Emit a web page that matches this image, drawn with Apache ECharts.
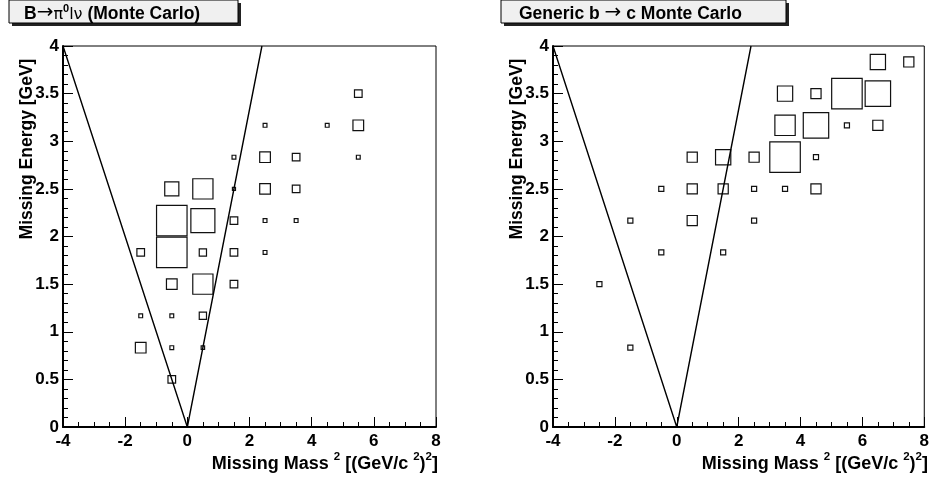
<!DOCTYPE html>
<html>
<head>
<meta charset="utf-8">
<script src="https://cdn.jsdelivr.net/npm/echarts@6/dist/echarts.min.js"></script>
<style>
  html, body { margin: 0; padding: 0; background: #fff; }
  #chart { width: 932px; height: 479px; }
</style>
</head>
<body>
<div id="chart"></div>
<script>
// axis ranges
const xRange = [-4, 8];
const yRange = [0, 4];

// [missing mass^2 bin centre, missing energy bin centre, content]
const signalBoxes = [
  [5.5, 3.5, 2],
  [2.5, 3.167, 1], [4.5, 3.167, 1], [5.5, 3.167, 2.8],
  [1.5, 2.833, 1], [2.5, 2.833, 2.8], [3.5, 2.833, 2], [5.5, 2.833, 1],
  [-0.5, 2.5, 3.7], [0.5, 2.5, 5.3], [1.5, 2.5, 0.8], [2.5, 2.5, 2.8], [3.5, 2.5, 2],
  [-0.5, 2.167, 8], [0.5, 2.167, 6.3], [1.5, 2.167, 2], [2.5, 2.167, 1], [3.5, 2.167, 1],
  [-1.5, 1.833, 2], [-0.5, 1.833, 8], [0.5, 1.833, 1.9], [1.5, 1.833, 2], [2.5, 1.833, 1],
  [-0.5, 1.5, 2.8], [0.5, 1.5, 5.3], [1.5, 1.5, 2],
  [-1.5, 1.167, 1], [-0.5, 1.167, 1], [0.5, 1.167, 1.9],
  [-1.5, 0.833, 2.8], [-0.5, 0.833, 1], [0.5, 0.833, 0.9],
  [-0.5, 0.5, 2]
];

const genericBoxes = [
  [6.5, 3.833, 3], [7.5, 3.833, 2],
  [3.5, 3.5, 3], [4.5, 3.5, 2], [5.5, 3.5, 6], [6.5, 3.5, 5],
  [3.5, 3.167, 4], [4.5, 3.167, 5], [5.5, 3.167, 1], [6.5, 3.167, 2],
  [0.5, 2.833, 2], [1.5, 2.833, 3], [2.5, 2.833, 2], [3.5, 2.833, 6], [4.5, 2.833, 1],
  [-0.5, 2.5, 1], [0.5, 2.5, 2], [1.5, 2.5, 2], [2.5, 2.5, 1], [3.5, 2.5, 1], [4.5, 2.5, 2],
  [-1.5, 2.167, 1], [0.5, 2.167, 2], [2.5, 2.167, 1],
  [-0.5, 1.833, 1], [1.5, 1.833, 1],
  [-2.5, 1.5, 1],
  [-1.5, 0.833, 1]
];

// signal region cut: E_miss vs M_miss^2
const cutLine = [[-4, 4], [0, 0], [2.4, 4]];

const FONT = '"Liberation Sans", Arial, Helvetica, sans-serif';
const SYM = '"DejaVu Sans", sans-serif';
const MAX_BOX = 30.5;

const grids = [
  { left: 63, top: 46, width: 373, height: 381 },
  { left: 553, top: 46, width: 373, height: 381 }
];

function xAxisFor(i) {
  return {
    type: 'value', gridIndex: i, min: xRange[0], max: xRange[1], interval: 2,
    axisLine: { onZero: false, lineStyle: { color: '#000', width: 2 } },
    axisTick: { inside: true, length: 10, lineStyle: { color: '#000', width: 1 } },
    minorTick: { show: true, splitNumber: 4, length: 5, lineStyle: { color: '#000', width: 1 } },
    axisLabel: { color: '#000', fontFamily: FONT, fontWeight: 'bold', fontSize: 17, margin: 6 },
    splitLine: { show: false }
  };
}

function yAxisFor(i) {
  return {
    type: 'value', gridIndex: i, min: yRange[0], max: yRange[1], interval: 0.5,
    axisLine: { onZero: false, lineStyle: { color: '#000', width: 2 } },
    axisTick: { inside: true, length: 10, lineStyle: { color: '#000', width: 1 } },
    minorTick: { show: true, splitNumber: 5, length: 5, lineStyle: { color: '#000', width: 1 } },
    axisLabel: { color: '#000', fontFamily: FONT, fontWeight: 'bold', fontSize: 17, margin: 4 },
    splitLine: { show: false }
  };
}

function boxSeries(data, i) {
  const vmax = Math.max(...data.map(d => d[2]));
  return {
    type: 'scatter', xAxisIndex: i, yAxisIndex: i,
    data: data,
    symbol: 'rect',
    symbolSize: v => {
      const s = MAX_BOX * v[2] / vmax;
      return [s, s];
    },
    itemStyle: { color: 'rgba(255,255,255,0)', borderColor: '#111', borderWidth: 1.2, opacity: 1 },
    silent: true
  };
}

function cutSeries(i) {
  return {
    type: 'line', xAxisIndex: i, yAxisIndex: i,
    data: cutLine, symbol: 'none', silent: true,
    lineStyle: { color: '#000', width: 1.4 }
  };
}

function titleBox(x, w, text, textX) {
  return {
    type: 'group',
    children: [
      { type: 'rect', shape: { x: x + 3, y: 3, width: w, height: 23 }, style: { fill: '#222' } },
      { type: 'rect', shape: { x: x, y: 0, width: w, height: 23 }, style: { fill: '#f0f0f0', stroke: '#000', lineWidth: 1 } },
      {
        type: 'text', x: textX, y: 13,
        style: { text: text, rich: titleRich, textVerticalAlign: 'middle', fill: '#000' }
      }
    ]
  };
}

const titleRich = {
  b: { fontFamily: FONT, fontWeight: 'bold', fontSize: 17.5, lineHeight: 20, verticalAlign: 'bottom' },
  s: { fontFamily: SYM, fontWeight: 'normal', fontSize: 16, lineHeight: 20, verticalAlign: 'bottom' },
  arr: { fontFamily: SYM, fontWeight: 'normal', fontSize: 20, lineHeight: 20, verticalAlign: 'bottom' },
  sup: { fontFamily: FONT, fontWeight: 'bold', fontSize: 11, lineHeight: 20, verticalAlign: 'top' }
};

const axisRich = {
  b: { fontFamily: FONT, fontWeight: 'bold', fontSize: 18, lineHeight: 22, verticalAlign: 'bottom' },
  sup: { fontFamily: FONT, fontWeight: 'bold', fontSize: 11.5, lineHeight: 22, verticalAlign: 'top' }
};

const xTitle = '{b|Missing Mass }{sup|2}{b| [(GeV/c }{sup|2}{b|)}{sup|2}{b|]}';

const graphics = [
  titleBox(9, 229, '{b|B}{arr|\u2192}{s|\u03c0}{sup|0}{s|l\u03bd}{b| (Monte Carlo)}', 24),
  titleBox(501, 285, '{b|Generic b }{arr|\u2192}{b| c Monte Carlo}', 519)
];

grids.forEach(g => {
  graphics.push({
    type: 'text', x: g.left + g.width + 2, y: 462,
    style: { text: xTitle, rich: axisRich, textAlign: 'right', textVerticalAlign: 'middle', fill: '#000' }
  });
  graphics.push({
    type: 'text', x: g.left - 36, y: 149, rotation: Math.PI / 2,
    style: {
      text: 'Missing Energy [GeV]', font: 'bold 17.5px ' + FONT,
      textAlign: 'center', textVerticalAlign: 'middle', fill: '#000'
    }
  });
});

const chart = echarts.init(document.getElementById('chart'));
chart.setOption({
  animation: false,
  backgroundColor: '#fff',
  grid: grids.map(g => Object.assign({ show: true, borderColor: '#000', borderWidth: 1, backgroundColor: 'transparent' }, g)),
  xAxis: [xAxisFor(0), xAxisFor(1)],
  yAxis: [yAxisFor(0), yAxisFor(1)],
  series: [
    cutSeries(0), boxSeries(signalBoxes, 0),
    cutSeries(1), boxSeries(genericBoxes, 1)
  ],
  graphic: graphics
});
</script>
</body>
</html>
